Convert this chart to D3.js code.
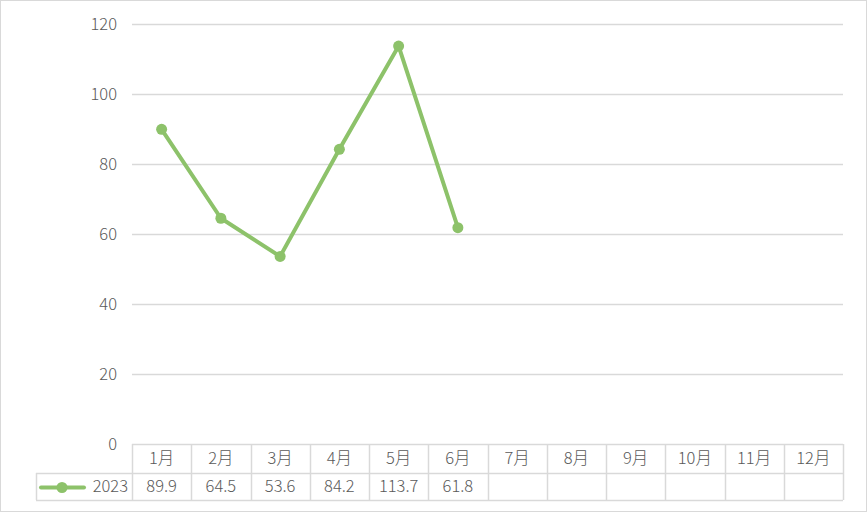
<!DOCTYPE html>
<html>
<head>
<meta charset="utf-8">
<script src="https://cdn.jsdelivr.net/npm/d3@7"></script>
<style>
  body { margin: 0; background: #fff; }
  text { font-family: "Noto Sans CJK SC", "Noto Sans", sans-serif; font-weight: 300; fill: #595959; }
</style>
</head>
<body>
<svg id="chart" width="867" height="512"></svg>
<script>
let months = ['1月','2月','3月','4月','5月','6月','7月','8月','9月','10月','11月','12月'];
let values2023 = [89.9, 64.5, 53.6, 84.2, 113.7, 61.8];
let seriesName = '2023';
let yTicks = [0, 20, 40, 60, 80, 100, 120];

let w = 867, h = 512,
  m = {t: 24, l: 132, r: 24};
let plotBottom = 444;
let rowH = 28;
let legendLeft = 36;
let green = '#8dc26a';
let gridColor = '#d9d9d9';

let svg = d3.select('#chart');

// outer frame
svg.append('rect')
  .attr('x', 0.5).attr('y', 0.5)
  .attr('width', w - 1).attr('height', h - 1)
  .attr('fill', 'none')
  .attr('stroke', gridColor);

let x = d3.scaleBand()
  .domain(months)
  .range([m.l, w - m.r]);

let y = d3.scaleLinear()
  .domain([0, 120])
  .range([plotBottom, m.t]);

// gridlines
svg.append('g')
  .selectAll('line')
  .data(yTicks.filter(d => d > 0))
  .enter()
  .append('line')
  .attr('x1', m.l).attr('x2', w - m.r)
  .attr('y1', d => Math.round(y(d)) + 0.5)
  .attr('y2', d => Math.round(y(d)) + 0.5)
  .attr('stroke', gridColor)
  .attr('stroke-width', 1.3);

// y tick labels
svg.append('g')
  .selectAll('text')
  .data(yTicks)
  .enter()
  .append('text')
  .attr('x', 117)
  .attr('y', d => y(d))
  .attr('dy', '0.35em')
  .attr('text-anchor', 'end')
  .style('font-size', '16.5px')
  .text(d => d);

// data table
let table = svg.append('g');
let rowTop = plotBottom, rowMid = plotBottom + rowH + 1, rowBot = rowMid + rowH - 1;

function hline(x1, x2, yy) {
  table.append('line')
    .attr('x1', x1).attr('x2', x2)
    .attr('y1', yy + 0.5).attr('y2', yy + 0.5)
    .attr('stroke', gridColor).attr('stroke-width', 1.5);
}
function vline(xx, y1, y2) {
  table.append('line')
    .attr('x1', xx + 0.5).attr('x2', xx + 0.5)
    .attr('y1', y1).attr('y2', y2)
    .attr('stroke', gridColor).attr('stroke-width', 1.5);
}

hline(m.l, w - m.r, rowTop);
hline(legendLeft, w - m.r, rowMid);
hline(legendLeft, w - m.r, rowBot);
vline(legendLeft, rowMid, rowBot);
months.forEach(mo => vline(Math.round(x(mo)), rowTop, rowBot));
vline(w - m.r, rowTop, rowBot);

table.selectAll('text.month')
  .data(months)
  .enter()
  .append('text')
  .attr('class', 'month')
  .attr('x', d => x(d) + x.bandwidth() / 2)
  .attr('y', (rowTop + rowMid) / 2)
  .attr('dy', '0.35em')
  .attr('text-anchor', 'middle')
  .style('font-size', '16.5px')
  .text(d => d);

table.selectAll('text.val')
  .data(values2023)
  .enter()
  .append('text')
  .attr('class', 'val')
  .attr('x', (d, i) => x(months[i]) + x.bandwidth() / 2)
  .attr('y', (rowMid + rowBot) / 2)
  .attr('dy', '0.35em')
  .attr('text-anchor', 'middle')
  .style('font-size', '16.5px')
  .text(d => d);

// legend key in table
let ly = (rowMid + rowBot) / 2 + 1;
table.append('line')
  .attr('x1', 41).attr('x2', 84)
  .attr('y1', ly).attr('y2', ly)
  .attr('stroke', green).attr('stroke-width', 4)
  .attr('stroke-linecap', 'round');
table.append('circle')
  .attr('cx', 62).attr('cy', ly).attr('r', 5.5)
  .attr('fill', green);
table.append('text')
  .attr('x', 128)
  .attr('y', (rowMid + rowBot) / 2)
  .attr('dy', '0.35em')
  .attr('text-anchor', 'end')
  .style('font-size', '16.5px')
  .text(seriesName);

// line series
let line = d3.line()
  .x((d, i) => x(months[i]) + x.bandwidth() / 2)
  .y(d => y(d));

svg.append('path')
  .datum(values2023)
  .attr('d', line)
  .attr('fill', 'none')
  .attr('stroke', green)
  .attr('stroke-width', 4)
  .attr('stroke-linejoin', 'round');

svg.selectAll('circle.pt')
  .data(values2023)
  .enter()
  .append('circle')
  .attr('class', 'pt')
  .attr('cx', (d, i) => x(months[i]) + x.bandwidth() / 2)
  .attr('cy', d => y(d))
  .attr('r', 5.5)
  .attr('fill', green);
</script>
</body>
</html>
